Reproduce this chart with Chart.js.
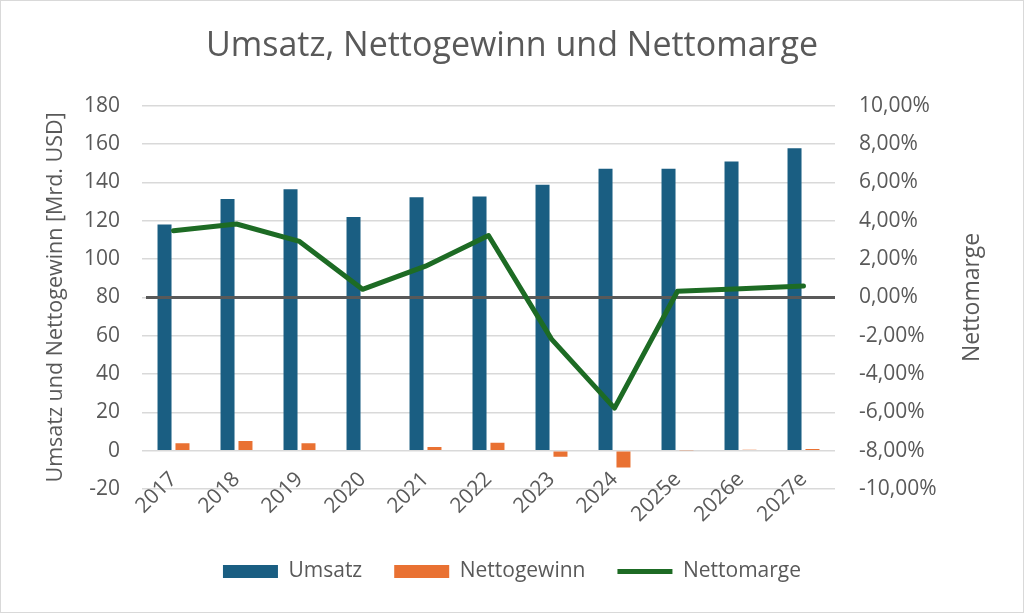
<!DOCTYPE html>
<html>
<head>
<meta charset="utf-8">
<script src="https://cdn.jsdelivr.net/npm/chart.js@4/dist/chart.umd.min.js"></script>
<style>
  html, body { margin: 0; padding: 0; background: #fff; }
</style>
</head>
<body>
<canvas id="chart" width="1024" height="613"></canvas>
<script>
// Umsatz / Nettogewinn (Mrd. USD) und Nettomarge
const years = ["2017", "2018", "2019", "2020", "2021", "2022", "2023", "2024", "2025e", "2026e", "2027e"];
const umsatz = [118, 131.4, 136.5, 121.9, 132.3, 132.7, 138.8, 147.2, 147.2, 150.9, 157.8];
const nettogewinn = [3.9, 5.0, 3.9, 0.4, 1.9, 4.2, -3.2, -8.8, 0.2, 0.5, 0.9];
const nettomarge = [0.0348, 0.0383, 0.0292, 0.0042, 0.0163, 0.0323, -0.0218, -0.0578, 0.0032, 0.0045, 0.006];

const textColor = "#595959";
const font = "'Open Sans', 'Liberation Sans', sans-serif";

function formatPercent(v) {
  if (Math.abs(v) < 1e-9) v = 0;
  return (v * 100).toFixed(2).replace(".", ",") + "%";
}

// frame, zero line and right axis title
const extras = {
  id: "extras",
  beforeDraw(chart) {
    const ctx = chart.ctx;
    ctx.save();
    ctx.fillStyle = "#fff";
    ctx.fillRect(0, 0, chart.width, chart.height);
    ctx.strokeStyle = "#d9d9d9";
    ctx.lineWidth = 1;
    ctx.strokeRect(0.5, 0.5, chart.width - 1, chart.height - 1);
    ctx.restore();
  },
  afterDatasetDraw(chart, args) {
    // 0 % line goes over the bars but under the margin line
    if (args.index !== 0) return;
    const ctx = chart.ctx;
    const y = chart.scales.y1.getPixelForValue(0);
    ctx.save();
    ctx.strokeStyle = "#595959";
    ctx.lineWidth = 3;
    ctx.beginPath();
    ctx.moveTo(chart.chartArea.left + 4, y);
    ctx.lineTo(chart.chartArea.right, y);
    ctx.stroke();
    ctx.restore();
  },
  afterDraw(chart) {
    const ctx = chart.ctx;
    const y1 = chart.scales.y1;
    ctx.save();
    ctx.translate(972, (y1.top + y1.bottom) / 2);
    ctx.rotate(-Math.PI / 2);
    ctx.fillStyle = textColor;
    ctx.font = "23px " + font;
    ctx.textAlign = "center";
    ctx.textBaseline = "middle";
    ctx.fillText("Nettomarge", 0, 0);
    ctx.restore();
  },
};

new Chart(document.getElementById("chart"), {
  type: "bar",
  data: {
    labels: years,
    datasets: [
      {
        label: "Umsatz",
        data: umsatz,
        backgroundColor: "#1a5e82",
        yAxisID: "y",
        order: 1,
        pointStyle: "rect",
        categoryPercentage: 0.57,
        barPercentage: 0.78,
      },
      {
        label: "Nettogewinn",
        data: nettogewinn,
        backgroundColor: "#e97132",
        yAxisID: "y",
        order: 1,
        pointStyle: "rect",
        categoryPercentage: 0.57,
        barPercentage: 0.78,
      },
      {
        type: "line",
        label: "Nettomarge",
        data: nettomarge,
        borderColor: "#1d6b24",
        backgroundColor: "#1d6b24",
        borderWidth: 5,
        borderCapStyle: "round",
        borderJoinStyle: "round",
        pointRadius: 0,
        pointStyle: "line",
        tension: 0,
        yAxisID: "y1",
        order: 0,
      },
    ],
  },
  options: {
    responsive: false,
    animation: false,
    layout: {
      padding: { left: 0, right: 0, top: 0, bottom: 21 },
    },
    plugins: {
      title: {
        display: true,
        text: "Umsatz, Nettogewinn und Nettomarge",
        color: textColor,
        font: { family: font, size: 34, weight: "normal" },
        padding: { top: 26, bottom: 39 },
      },
      legend: {
        position: "bottom",
        labels: {
          usePointStyle: true,
          pointStyleWidth: 55,
          boxHeight: 13,
          padding: 32,
          color: textColor,
          font: { family: font, size: 21 },
          sort: (a, b) => a.datasetIndex - b.datasetIndex,
        },
      },
      tooltip: { enabled: false },
    },
    scales: {
      x: {
        grid: { display: false },
        border: { display: false },
        ticks: {
          color: textColor,
          font: { family: font, size: 21 },
          minRotation: 45,
          maxRotation: 45,
          padding: -30,
          autoSkip: false,
        },
        afterFit: (s) => {
          s.height = 40;
          // labels sit partly over the plot, like in the original, so don't clip them
          s._computeLabelArea = () => undefined;
        },
      },
      y: {
        position: "left",
        min: -20,
        max: 180,
        ticks: {
          stepSize: 20,
          color: textColor,
          font: { family: font, size: 21 },
          padding: 22,
        },
        grid: { color: "#d9d9d9", lineWidth: 1.5, drawTicks: false },
        border: { display: false },
        title: {
          display: true,
          text: "Umsatz und Nettogewinn [Mrd. USD]",
          color: textColor,
          font: { family: font, size: 21.5 },
          padding: { top: 43, bottom: 0 },
        },
        afterFit: (s) => { s.width = 142; },
      },
      y1: {
        position: "right",
        min: -0.1,
        max: 0.1,
        ticks: {
          stepSize: 0.02,
          color: textColor,
          font: { family: font, size: 21 },
          padding: 24,
          callback: (v) => formatPercent(v),
        },
        grid: { display: false, drawTicks: false },
        border: { display: false },
        afterFit: (s) => { s.width = 189; },
      },
    },
  },
  plugins: [extras],
});
</script>
</body>
</html>
